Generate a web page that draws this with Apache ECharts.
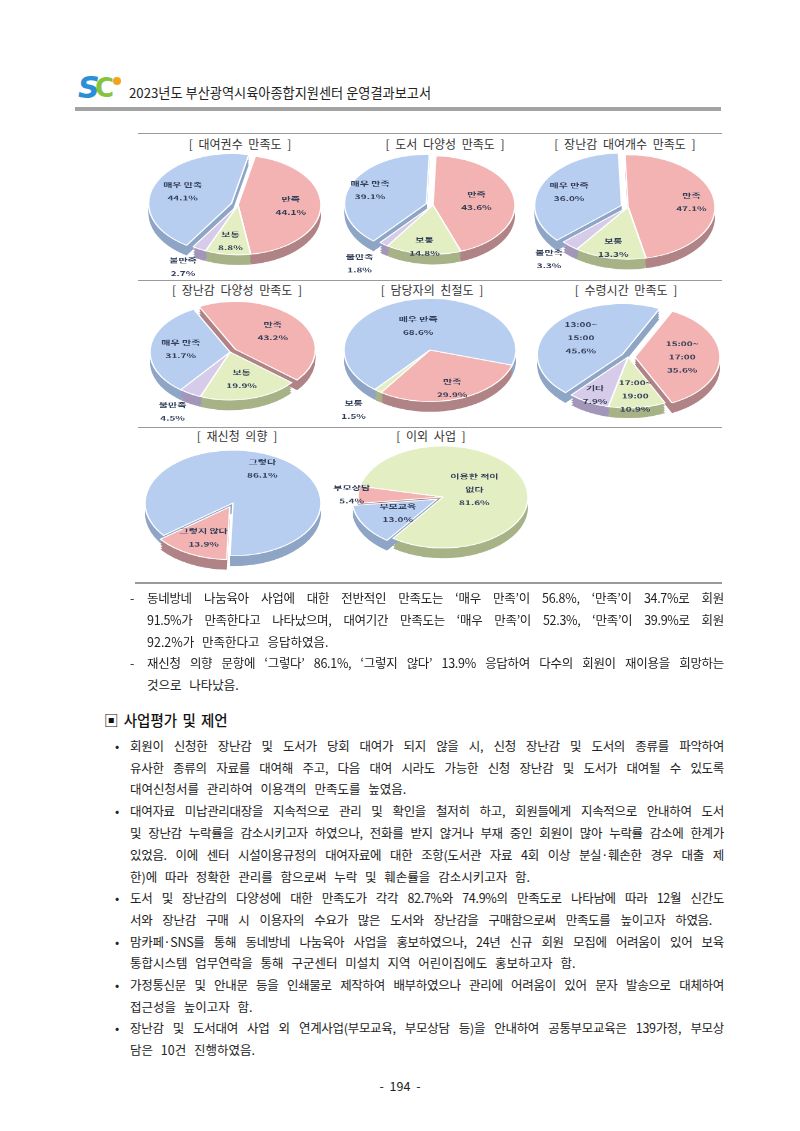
<!DOCTYPE html>
<html><head><meta charset="utf-8">
<script src="https://cdn.jsdelivr.net/npm/echarts@6/dist/echarts.min.js"></script>
<style>
html,body{margin:0;padding:0;background:#fff;}
body{width:800px;height:1131px;position:relative;overflow:hidden;font-family:"Noto Sans CJK KR","Noto Sans",sans-serif;color:#222;}
.abs{position:absolute;}
.hline{position:absolute;height:1px;background:#9a9a9a;}
.ttl{position:absolute;font-size:12px;color:#333;white-space:nowrap;transform:translateX(-50%);line-height:14px;word-spacing:3px;}
.ln{position:absolute;font-size:12.5px;letter-spacing:-0.3px;line-height:22px;height:22px;word-break:keep-all;overflow:visible;}
.j{text-align:justify;text-align-last:justify;}
.nj{letter-spacing:0;word-spacing:5px;white-space:nowrap;}
</style></head>
<body>
<!-- header -->
<div class="abs" style="left:76px;top:72px;width:50px;height:36px;">
  <span class="abs" style="left:2px;top:-2px;font:italic bold 30px 'DejaVu Sans';color:#2a8fd6;">S</span>
  <span class="abs" style="left:19px;top:1px;font:bold 26px 'DejaVu Sans';color:#86c440;">C</span>
  <span class="abs" style="left:37px;top:5px;width:8px;height:8px;border-radius:50%;background:#f5a31a;"></span>
</div>
<div class="abs" style="left:129px;top:83px;font-size:13.2px;color:#222;white-space:nowrap;">2023년도 부산광역시육아종합지원센터 운영결과보고서</div>
<div class="abs" style="left:75px;top:107px;width:646px;height:4px;background:#a3a3a3;"></div>

<!-- chart frame lines -->
<div class="hline" style="left:138px;top:133px;width:584px;"></div>
<div class="hline" style="left:138px;top:280px;width:584px;"></div>
<div class="hline" style="left:138px;top:427px;width:584px;"></div>
<div class="hline" style="left:135px;top:582px;width:587px;height:1.5px;"></div>

<div id="titles"></div>
<div id="chart" style="position:absolute;left:0;top:120px;width:800px;height:783px;transform:scaleY(0.6);transform-origin:0 0;"></div>

<div id="body"></div>

<script>
// ---------------- data ----------------
const chartTitles = ['[ 대여권수 만족도 ]','[ 도서 다양성 만족도 ]','[ 장난감 대여개수 만족도 ]',
  '[ 장난감 다양성 만족도 ]','[ 담당자의 친절도 ]','[ 수령시간 만족도 ]','[ 재신청 의향 ]','[ 이외 사업 ]'];
const satNames = ['만족','보통','불만족','매우 만족'];
const rentCountValues = [44.1, 8.8, 2.7, 44.1];     // 대여권수 만족도
const bookVarietyValues = [43.6, 14.8, 1.8, 39.1];  // 도서 다양성 만족도
const toyCountValues = [47.1, 13.3, 3.3, 36.0];     // 장난감 대여개수 만족도
const toyVarietyValues = [43.2, 19.9, 4.5, 31.7];   // 장난감 다양성 만족도
const kindNames = ['만족','보통','매우 만족'];
const kindValues = [29.9, 1.5, 68.6];               // 담당자의 친절도
const timeNames = ['15:00~\n17:00','17:00~\n19:00','기타','13:00~\n15:00'];
const timeValues = [35.6, 10.9, 7.9, 45.6];         // 수령시간 만족도
const reapplyNames = ['그렇지 않다','그렇다'];
const reapplyValues = [13.9, 86.1];                 // 재신청 의향
const otherNames = ['부모교육','부모상담','이용한 적이\n없다'];
const otherValues = [13.0, 5.4, 81.6];              // 이외 사업

// ---------------- layout / style ----------------
const TOP = 120, S = 0.6;
const C = {B:'#b7cef0', R:'#f3b3b2', G:'#e3efc2', P:'#d6cce9'};
const D = {B:'#8ea5c6', R:'#b08386', G:'#a7b287', P:'#a296b9'};
// lr: label radius factor per slice (label sits at r*lr along the slice's mid-angle)
const pies = [
  {names:satNames, values:rentCountValues, cx:238, cy:205, r:83, start:78, col:['R','G','P','B'], lr:[0.6,0.7,1.38,0.6], exp:[3], tx:240, ty:137},
  {names:satNames, values:bookVarietyValues, cx:433, cy:205, r:82, start:88, col:['R','G','P','B'], lr:[0.5,0.82,1.45,0.7], exp:[3], tx:445, ty:137},
  {names:satNames, values:toyCountValues, cx:628, cy:207, r:87, start:92, col:['R','G','P','B'], lr:[0.7,0.77,1.32,0.62], exp:[3], tx:625, ty:137},
  {names:satNames, values:toyVarietyValues, cx:230, cy:352, r:80, start:117, col:['R','G','P','B'], lr:[0.56,0.55,1.4,0.58], exp:[0], tx:237, ty:283},
  {names:kindNames, values:kindValues, cx:430, cy:350, r:86, start:-17, col:['R','G','B'], lr:[0.75,1.43,0.45], exp:[], tx:432, ty:283},
  {names:timeNames, values:timeValues, cx:628, cy:357, r:85, start:64, col:['R','G','P','B'], lr:[0.52,0.74,0.8,0.55], exp:[3,0], tx:626, ty:283},
  {names:reapplyNames, values:reapplyValues, cx:233, cy:503, r:88, start:-92, col:['R','B'], lr:[0.62,0.7], exp:[0], tx:237, ty:429},
  {names:otherNames, values:otherValues, cx:443, cy:497, r:85, start:-126, col:['B','R','G'], lr:[0.5,1.04,0.36], exp:[0], tx:431, ty:429}
];

// titles
const tHost = document.getElementById('titles');
pies.forEach((p,i)=>{
  const d=document.createElement('div'); d.className='ttl';
  d.style.left=p.tx+'px'; d.style.top=p.ty+'px'; d.textContent=chartTitles[i]; tHost.appendChild(d);
});

// ---------------- chart ----------------
const series = [];
const fmt = p => p.name + '\n' + p.value.toFixed(1) + '%';
const labelFont = {color:'#34405a', fontWeight:'bold', fontSize:10, lineHeight:22, fontFamily:'Noto Sans CJK KR'};
function base(p, cy, z, rad){
  return {type:'pie', silent:true, animation:false, center:[p.cx, cy], radius:rad || p.r, z:z,
    startAngle:p.start, clockwise:true, selectedMode:'multiple', selectedOffset:7,
    avoidLabelOverlap:false};
}
pies.forEach(p=>{
  const cyPre = (p.cy - TOP)/S;
  // 3D side (darker copies shifted down)
  [17,13,9,5].forEach(off=>{
    series.push(Object.assign(base(p, cyPre+off, 1), {
      label:{show:false}, labelLine:{show:false},
      itemStyle:{borderWidth:0},
      data:p.values.map((v,i)=>({name:p.names[i], value:v, selected:p.exp.includes(i),
        itemStyle:{color:D[p.col[i]]}}))
    }));
  });
  // top surface
  series.push(Object.assign(base(p, cyPre, 2), {
    itemStyle:{borderColor:'#ffffff', borderWidth:1.5},
    label:{show:false}, labelLine:{show:false},
    data:p.values.map((v,i)=>({name:p.names[i], value:v, selected:p.exp.includes(i),
      itemStyle:{color:C[p.col[i]]}}))
  }));
  // labels: transparent copies whose radius puts each label at its factor
  [...new Set(p.lr)].forEach(f=>{
    series.push(Object.assign(base(p, cyPre, 3, p.r*2*f), {
      itemStyle:{color:'rgba(0,0,0,0)', borderWidth:0},
      label:Object.assign({show:true, position:'inside', formatter:fmt}, labelFont),
      labelLine:{show:false},
      data:p.values.map((v,i)=>({name:p.names[i], value:v, selected:p.exp.includes(i),
        itemStyle:{color:'rgba(0,0,0,0)'}, label:{show:p.lr[i]===f}}))
    }));
  });
});
const chart = echarts.init(document.getElementById('chart'), null, {renderer:'canvas'});
chart.setOption({animation:false, series});

// ---------------- body text ----------------
const bodyLines = [
  {x:130, y:598, t:'-'},
  {x:147, y:598, t:"동네방네 나눔육아 사업에 대한 전반적인 만족도는 ‘매우 만족’이 56.8%, ‘만족’이 34.7%로 회원", j:724},
  {x:147, y:620, t:"91.5%가 만족한다고 나타났으며, 대여기간 만족도는 ‘매우 만족’이 52.3%, ‘만족’이 39.9%로 회원", j:724},
  {x:147, y:642, t:"92.2%가 만족한다고 응답하였음."},
  {x:130, y:663, t:'-'},
  {x:147, y:663, t:"재신청 의향 문항에 ‘그렇다’ 86.1%, ‘그렇지 않다’ 13.9% 응답하여 다수의 회원이 재이용을 희망하는", j:724},
  {x:147, y:685, t:"것으로 나타났음."},
  {x:130, y:746, t:"회원이 신청한 장난감 및 도서가 당회 대여가 되지 않을 시, 신청 장난감 및 도서의 종류를 파악하여", j:724, b:1},
  {x:130, y:768, t:"유사한 종류의 자료를 대여해 주고, 다음 대여 시라도 가능한 신청 장난감 및 도서가 대여될 수 있도록", j:724},
  {x:130, y:789, t:"대여신청서를 관리하여 이용객의 만족도를 높였음."},
  {x:130, y:811, t:"대여자료 미납관리대장을 지속적으로 관리 및 확인을 철저히 하고, 회원들에게 지속적으로 안내하여 도서", j:724, b:1},
  {x:130, y:833, t:"및 장난감 누락률을 감소시키고자 하였으나, 전화를 받지 않거나 부재 중인 회원이 많아 누락률 감소에 한계가", j:724},
  {x:130, y:855, t:"있었음. 이에 센터 시설이용규정의 대여자료에 대한 조항(도서관 자료 4회 이상 분실·훼손한 경우 대출 제", j:724},
  {x:130, y:877, t:"한)에 따라 정확한 관리를 함으로써 누락 및 훼손률을 감소시키고자 함."},
  {x:130, y:898, t:"도서 및 장난감의 다양성에 대한 만족도가 각각 82.7%와 74.9%의 만족도로 나타남에 따라 12월 신간도", j:724, b:1},
  {x:130, y:920, t:"서와 장난감 구매 시 이용자의 수요가 많은 도서와 장난감을 구매함으로써 만족도를 높이고자 하였음.", j:712},
  {x:130, y:942, t:"맘카페·SNS를 통해 동네방네 나눔육아 사업을 홍보하였으나, 24년 신규 회원 모집에 어려움이 있어 보육", j:724, b:1},
  {x:130, y:963, t:"통합시스템 업무연락을 통해 구군센터 미설치 지역 어린이집에도 홍보하고자 함."},
  {x:130, y:985, t:"가정통신문 및 안내문 등을 인쇄물로 제작하여 배부하였으나 관리에 어려움이 있어 문자 발송으로 대체하여", j:724, b:1},
  {x:130, y:1007, t:"접근성을 높이고자 함."},
  {x:130, y:1028, t:"장난감 및 도서대여 사업 외 연계사업(부모교육, 부모상담 등)을 안내하여 공통부모교육은 139가정, 부모상", j:724, b:1},
  {x:130, y:1050, t:"담은 10건 진행하였음."}
];
const host = document.getElementById('body');
bodyLines.forEach(l=>{
  const d=document.createElement('div'); d.className='ln'+(l.j?' j':' nj');
  d.style.left=l.x+'px'; d.style.top=(l.y-11)+'px';
  if(l.j) d.style.width=(l.j-l.x)+'px';
  d.textContent=l.t; host.appendChild(d);
  if(l.b){const b=document.createElement('div'); b.className='ln'; b.style.left='115px'; b.style.top=(l.y-11)+'px'; b.textContent='•'; host.appendChild(b);}
});
const h=document.createElement('div'); h.className='abs';
h.style.cssText='left:104px;top:709px;font-size:14.5px;font-weight:500;white-space:nowrap;color:#111;word-spacing:2px;';
h.textContent='▣ 사업평가 및 제언'; host.appendChild(h);
const pg=document.createElement('div'); pg.className='abs';
pg.style.cssText='left:400px;top:1076px;transform:translateX(-50%);font-size:12.5px;white-space:nowrap;word-spacing:3px;';
pg.textContent='- 194 -'; host.appendChild(pg);
</script>
</body></html>
